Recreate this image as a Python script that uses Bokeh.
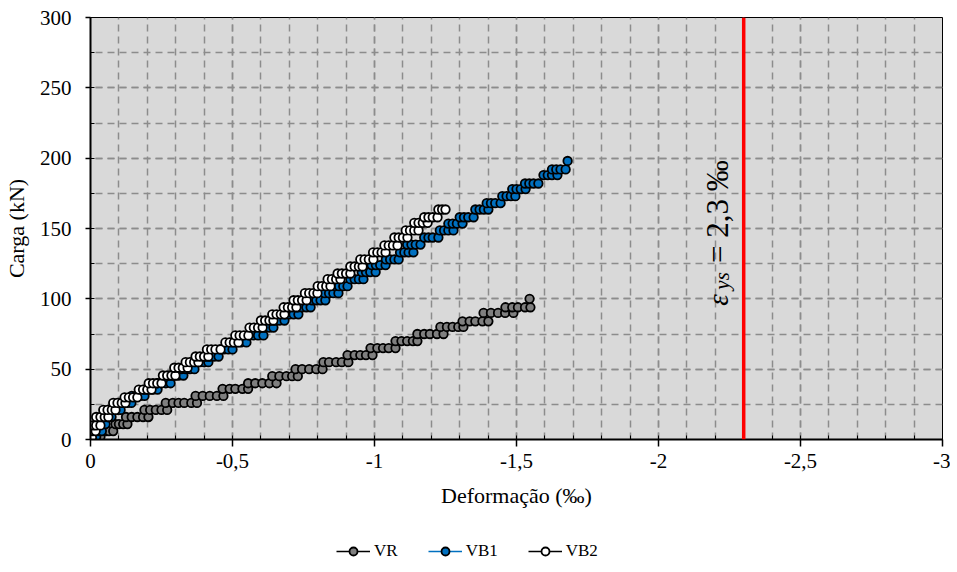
from bokeh.plotting import figure
from bokeh.layouts import column
from bokeh.models import Range1d, FixedTicker, Span, Label, Legend, LegendItem
from bokeh.embed import file_html
from bokeh.resources import INLINE

# ---------------- data ----------------
VR_load = [2, 6, 11, 16, 21, 26, 31, 36, 40, 45, 50, 55, 60, 65, 70, 75, 80, 84, 90, 94, 100]
VR_strain = [
    [-0.005, -0.02, -0.035],
    [-0.055, -0.065, -0.08],
    [-0.088, -0.10, -0.115, -0.13],
    [-0.125, -0.145, -0.165, -0.185, -0.204],
    [-0.19, -0.21, -0.23, -0.25, -0.27],
    [-0.265, -0.29, -0.31, -0.33, -0.355, -0.375],
    [-0.37, -0.395, -0.42, -0.445, -0.468],
    [-0.465, -0.49, -0.51, -0.535, -0.555],
    [-0.555, -0.58, -0.605, -0.63, -0.655],
    [-0.64, -0.665, -0.69, -0.71, -0.73],
    [-0.722, -0.745, -0.77, -0.795, -0.817],
    [-0.82, -0.84, -0.865, -0.885, -0.908],
    [-0.905, -0.93, -0.95, -0.97, -0.993],
    [-0.986, -1.01, -1.03, -1.05, -1.074],
    [-1.074, -1.095, -1.115, -1.135, -1.151],
    [-1.151, -1.175, -1.195, -1.22, -1.243],
    [-1.232, -1.255, -1.275, -1.295, -1.313],
    [-1.31, -1.335, -1.355, -1.38, -1.401],
    [-1.384, -1.41, -1.435, -1.46, -1.489],
    [-1.461, -1.485, -1.505, -1.53, -1.549],
    [-1.546],
]

VB1_load = [2, 6, 11, 16, 21, 26, 31, 35.5, 40, 45.5, 50, 55, 59, 64, 69, 74, 79.6, 84.6,
            89, 94, 99, 104, 109, 114, 119, 124, 128, 133, 138.6, 143.6, 148.6, 153.5,
            158, 163.5, 168, 173, 178, 182, 188, 192, 198]
VB1_strain = [
    [0.0, -0.01, -0.02],
    [-0.02, -0.03, -0.04],
    [-0.03, -0.04, -0.053],
    [-0.045, -0.06, -0.074],
    [-0.065, -0.08, -0.095, -0.106],
    [-0.1, -0.115, -0.13, -0.144],
    [-0.145, -0.16, -0.175, -0.19],
    [-0.19, -0.205, -0.22, -0.236],
    [-0.235, -0.25, -0.265, -0.282],
    [-0.28, -0.295, -0.31, -0.327],
    [-0.32, -0.335, -0.35, -0.366],
    [-0.37, -0.385, -0.4, -0.415],
    [-0.405, -0.42, -0.435, -0.451],
    [-0.455, -0.47, -0.485, -0.5],
    [-0.5, -0.515, -0.53, -0.549],
    [-0.56, -0.575, -0.59, -0.609],
    [-0.6, -0.615, -0.63, -0.644],
    [-0.635, -0.65, -0.665, -0.683],
    [-0.685, -0.7, -0.715, -0.732],
    [-0.73, -0.745, -0.76, -0.775],
    [-0.78, -0.795, -0.81, -0.827],
    [-0.825, -0.84, -0.855, -0.873],
    [-0.86, -0.875, -0.89, -0.905],
    [-0.915, -0.93, -0.945, -0.961],
    [-0.955, -0.97, -0.985, -1.004],
    [-0.99, -1.005, -1.02, -1.039],
    [-1.04, -1.055, -1.07, -1.085],
    [-1.09, -1.105, -1.12, -1.137],
    [-1.115, -1.13, -1.145, -1.162],
    [-1.175, -1.19, -1.205, -1.225],
    [-1.23, -1.245, -1.26, -1.278],
    [-1.26, -1.275, -1.29, -1.31],
    [-1.3, -1.315, -1.33, -1.349],
    [-1.355, -1.37, -1.385, -1.401],
    [-1.395, -1.41, -1.425, -1.444],
    [-1.45, -1.465, -1.48, -1.496],
    [-1.485, -1.5, -1.515, -1.532],
    [-1.53, -1.545, -1.56, -1.577],
    [-1.595, -1.61, -1.625, -1.644],
    [-1.625, -1.64, -1.655, -1.673],
    [-1.68],
]

VB2_load = [1.5, 6, 10, 16, 21, 26, 30, 35.5, 40, 45.5, 51, 55, 59, 64, 69, 74, 79.6, 84.6,
            89, 94, 99, 104, 109, 114, 118, 123, 128, 133, 138, 143.6, 148.6, 154, 158, 163.5]
VB2_strain = [
    [0.0, -0.005],
    [0.0, -0.008, -0.018],
    [-0.01, -0.02, -0.035],
    [-0.02, -0.035, -0.05, -0.063],
    [-0.045, -0.06, -0.075, -0.088],
    [-0.08, -0.095, -0.11, -0.123],
    [-0.12, -0.135, -0.15, -0.165],
    [-0.17, -0.185, -0.2, -0.215],
    [-0.205, -0.22, -0.235, -0.25],
    [-0.255, -0.27, -0.285, -0.299],
    [-0.295, -0.31, -0.325, -0.342],
    [-0.335, -0.35, -0.365, -0.38],
    [-0.37, -0.385, -0.4, -0.415],
    [-0.41, -0.425, -0.44, -0.458],
    [-0.475, -0.49, -0.505, -0.521],
    [-0.51, -0.525, -0.54, -0.556],
    [-0.56, -0.575, -0.59, -0.606],
    [-0.6, -0.615, -0.63, -0.644],
    [-0.64, -0.655, -0.67, -0.683],
    [-0.68, -0.695, -0.71, -0.725],
    [-0.715, -0.73, -0.745, -0.761],
    [-0.755, -0.77, -0.785, -0.799],
    [-0.8, -0.815, -0.83, -0.845],
    [-0.835, -0.85, -0.865, -0.88],
    [-0.87, -0.885, -0.9, -0.915],
    [-0.915, -0.93, -0.945, -0.958],
    [-0.95, -0.965, -0.98, -0.996],
    [-0.995, -1.01, -1.025, -1.039],
    [-1.035, -1.05, -1.065, -1.081],
    [-1.07, -1.085, -1.1, -1.116],
    [-1.11, -1.125, -1.14, -1.155],
    [-1.14, -1.155, -1.17, -1.187],
    [-1.175, -1.19, -1.205, -1.222],
    [-1.225, -1.238, -1.25],
]

X_TICKS = [0, -0.5, -1, -1.5, -2, -2.5, -3]
X_TICK_LABELS = ["0", "-0,5", "-1", "-1,5", "-2", "-2,5", "-3"]
Y_TICKS = [0, 50, 100, 150, 200, 250, 300]
EPS_YS = -2.3


def flatten(loads, strains):
    xs, ys = [], []
    for load, group in zip(loads, strains):
        for s in group:
            xs.append(s)
            ys.append(load)
    return xs, ys


FONT = "Liberation Serif"

p = figure(frame_width=852, frame_height=422, output_backend="svg", toolbar_location=None,
           x_range=Range1d(0, -3), y_range=Range1d(0, 300),
           min_border_left=90, min_border_right=8, min_border_top=17, min_border_bottom=80)
p.background_fill_color = "#D9D9D9"
p.border_fill_color = "white"
p.outline_line_color = "black"
p.outline_line_width = 1

# axes
p.xaxis.ticker = FixedTicker(ticks=X_TICKS, minor_ticks=[-0.1 * i for i in range(31)])
p.xaxis.major_label_overrides = {t: l for t, l in zip(X_TICKS, X_TICK_LABELS)}
p.yaxis.ticker = FixedTicker(ticks=Y_TICKS, minor_ticks=[25 * i for i in range(13)])
for ax in (p.xaxis, p.yaxis):
    ax.axis_line_color = "black"
    ax.axis_line_width = 2
    ax.major_tick_line_color = "black"
    ax.minor_tick_line_color = "black"
    ax.major_tick_line_width = 1.5
    ax.minor_tick_line_width = 1
    ax.major_tick_in = 0
    ax.minor_tick_in = 4
    ax.minor_tick_out = 0
    ax.major_label_text_font = FONT
    ax.major_label_text_font_size = "21px"
    ax.major_label_text_color = "black"
    ax.axis_label_text_font = FONT
    ax.axis_label_text_font_size = "22px"
    ax.axis_label_text_font_style = "normal"
    ax.axis_label_text_color = "black"
p.xaxis.major_tick_out = 7
p.yaxis.major_tick_out = 5
p.xaxis.major_label_standoff = 7
p.yaxis.major_label_standoff = 14
p.xaxis.axis_label = "Deformação (‰)"
p.yaxis.axis_label = "Carga (kN)"
p.xaxis.axis_label_standoff = 12
p.yaxis.axis_label_standoff = 8

# grid
for g in (p.xgrid, p.ygrid):
    g.grid_line_color = "#8C8C8C"
    g.grid_line_dash = "7 5"
    g.grid_line_width = 1.5
    g.minor_grid_line_color = "#8C8C8C"
    g.minor_grid_line_dash = "7 5"
    g.minor_grid_line_width = 1.5

# series
vr_x, vr_y = flatten(VR_load, VR_strain)
vb1_x, vb1_y = flatten(VB1_load, VB1_strain)
vb2_x, vb2_y = flatten(VB2_load, VB2_strain)

series = [
    ("VR", vr_x, vr_y, "black", "#7F7F7F"),
    ("VB1", vb1_x, vb1_y, "#0070C0", "#0070C0"),
    ("VB2", vb2_x, vb2_y, "black", "white"),
]

# legend lives in a thin figure placed under the chart
lf = figure(frame_width=950, frame_height=45, output_backend="svg", toolbar_location=None,
            x_range=Range1d(0, 1), y_range=Range1d(0, 1),
            min_border_left=0, min_border_right=0, min_border_top=0, min_border_bottom=0)
lf.axis.visible = False
lf.grid.visible = False
lf.outline_line_color = None
lf.background_fill_color = "white"
lf.border_fill_color = "white"

# legend proxies: a single point placed outside the legend figure's visible range
PROXY_X = [5, 6]
PROXY_Y = [5, 5]

items = []
for name, xs, ys, lc, fc in series:
    p.line(xs, ys, line_color=lc, line_width=1.5)
    p.scatter(xs, ys, marker="circle", size=8.5, fill_color=fc,
              line_color="black", line_width=1.8)
    lln = lf.line(PROXY_X, PROXY_Y, line_color=lc, line_width=1.5)
    lsc = lf.scatter(PROXY_X, PROXY_Y, marker="circle", size=8.5, fill_color=fc,
                     line_color="black", line_width=1.8)
    items.append(LegendItem(label=name, renderers=[lln, lsc]))

# yield strain line
p.add_layout(Span(location=EPS_YS, dimension="height", line_color="#FF0000", line_width=3.5))
p.add_layout(Label(x=-2.208, y=95, text="ε", angle=90, angle_units="deg",
                   text_font=FONT, text_font_style="italic", text_font_size="29px",
                   text_baseline="middle", text_align="left", text_color="black"))
p.add_layout(Label(x=-2.224, y=106.5, text="ys", angle=90, angle_units="deg",
                   text_font=FONT, text_font_style="italic", text_font_size="21px",
                   text_baseline="middle", text_align="left", text_color="black"))
p.add_layout(Label(x=-2.208, y=125.5, text="= 2,3 ‰", angle=90, angle_units="deg",
                   text_font=FONT, text_font_size="31px",
                   text_baseline="middle", text_align="left", text_color="black"))

legend = Legend(items=items, orientation="horizontal", location=(336, 3))
legend.background_fill_alpha = 0
legend.border_line_alpha = 0
legend.label_text_font = FONT
legend.label_text_font_size = "17px"
legend.label_text_color = "black"
legend.glyph_width = 34
legend.label_standoff = 4
legend.spacing = 30
legend.padding = 0
legend.margin = 0
lf.add_layout(legend, "center")

layout = column(p, lf, spacing=0)
open("out.html", "w").write(file_html(layout, INLINE))
